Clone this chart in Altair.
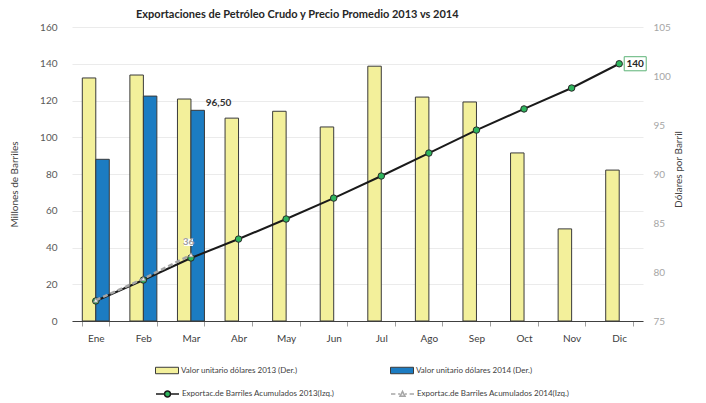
import altair as alt
import pandas as pd

# ---------------- data ----------------
meses = ["Ene", "Feb", "Mar", "Abr", "May", "Jun", "Jul", "Ago", "Sep", "Oct", "Nov", "Dic"]
precio_2013 = [99.8, 100.1, 97.65, 95.7, 96.4, 94.8, 101.0, 97.85, 97.35, 92.15, 84.4, 90.4]
meses_2014 = ["Ene", "Feb", "Mar"]
precio_2014 = [91.5, 97.95, 96.5]
acum_2013 = [10.9, 22.3, 34.3, 44.6, 55.5, 66.9, 78.9, 91.4, 103.9, 115.4, 126.8, 140.0]
acum_2014 = [11.3, 23.0, 36.0]

lab_b13 = "Valor unitario dólares 2013 (Der.)"
lab_b14 = "Valor unitario dólares 2014 (Der.)"
lab_l13 = "Exportac.de Barriles Acumulados 2013(Izq.)"
lab_l14 = "Exportac.de Barriles Acumulados 2014(Izq.)"

titulo = "Exportaciones de Petróleo Crudo y Precio Promedio 2013 vs 2014"
eje_izq = "Millones de Barriles"
eje_der = "Dólares por Barril"
ticks_izq = [0, 20, 40, 60, 80, 100, 120, 140, 160]
ticks_der = [75, 80, 85, 90, 95, 100, 105]

etq_precio_mar14 = ["96,50"]
etq_acum_mar14 = ["36"]
etq_acum_dic13 = ["140"]

FONT = "Lato"
YELLOW = "#F3F09B"
BLUE = "#1C7CC2"
GREEN = "#2DB55D"

df_b13 = pd.DataFrame({"mes": meses, "anio": "2013", "precio": precio_2013, "serie": lab_b13})
df_b14 = pd.DataFrame({"mes": meses_2014, "anio": "2014", "precio": precio_2014, "serie": lab_b14})
df_l13 = pd.DataFrame({"mes": meses, "acum": acum_2013, "serie": lab_l13})
df_l14 = pd.DataFrame({"mes": meses_2014, "acum": acum_2014, "serie": lab_l14})

df_t96 = pd.DataFrame({"mes": ["Mar"], "anio": ["2014"], "precio": [precio_2014[2]], "t": etq_precio_mar14})
df_t36 = pd.DataFrame({"mes": ["Mar"], "acum": [acum_2014[2]], "t": etq_acum_mar14})
df_t140 = pd.DataFrame({"mes": ["Dic"], "acum": [acum_2013[11]], "t": etq_acum_dic13})

xscale = alt.Scale(type="band", domain=meses, paddingInner=0.433, paddingOuter=0.2165)
xaxis = alt.Axis(
    title=None, labelAngle=0, labelFont=FONT, labelFontSize=10, labelColor="#404040",
    domainColor="#404040", tickColor="#A0A0A0", tickSize=5, tickBand="extent",
    labelPadding=7, grid=False,
)
# same axis definition in every layer so Vega-Lite merges them into one
X = alt.X("mes:N", scale=xscale, sort=meses, axis=xaxis)
xoff = alt.XOffset("anio:N", scale=alt.Scale(domain=["2013", "2014"], paddingInner=0, paddingOuter=0))

yscale_der = alt.Scale(domain=[75, 105], nice=False, zero=False)
yscale_izq = alt.Scale(domain=[0, 160], nice=False, zero=True)

yaxis_der = alt.Axis(
    orient="right", values=ticks_der, grid=False, domain=False, ticks=False,
    labelPadding=10, labelFont=FONT, labelFontSize=10, labelColor="#A6A6A6",
    title=eje_der, titleFont=FONT, titleFontSize=10, titleFontWeight="normal",
    titleColor="#404040", titleAngle=270, titleX=35, titleY=142, titleBaseline="middle",
)
yaxis_izq = alt.Axis(
    orient="left", values=ticks_izq, grid=True, gridColor="#EBEBEB", domain=False, ticks=False,
    labelPadding=15, labelFont=FONT, labelFontSize=10, labelColor="#595959",
    title=eje_izq, titleFont=FONT, titleFontSize=10, titleFontWeight="normal",
    titleColor="#404040", titleAngle=270, titleX=-58, titleY=157, titleBaseline="middle",
)

SYM = 529  # 23 px wide symbols
RECT = "M-1,-0.28H1V0.28H-1Z"
LINE_CIRC = "M-1,0H-0.26M0.26,0H1M-0.26,0A0.26,0.26 0 1 1 0.26,0A0.26,0.26 0 1 1 -0.26,0Z"
LINE_TRI = "M-1,0H-0.62M-0.38,0H-0.22M0.22,0H0.38M0.62,0H1M-0.22,0.2L0,-0.22L0.22,0.2Z"

ROW1 = 370 - 27 - 11.5
ROW2 = 393 - 27 - 11.5


def leg(x, y, sym, **kw):
    return alt.Legend(
        title=None, orient="none", legendX=x, legendY=y, symbolType=sym, symbolSize=SYM,
        labelFont=FONT, labelFontSize=8, labelColor="#404040", labelOffset=2, padding=0,
        **kw,
    )


Yd = alt.Y("precio:Q", scale=yscale_der, axis=yaxis_der)
Ydn = alt.Y("precio:Q", scale=yscale_der, axis=None)
Yl = alt.Y("acum:Q", scale=yscale_izq, axis=yaxis_izq)
Yln = alt.Y("acum:Q", scale=yscale_izq, axis=None)

bar13 = alt.Chart(df_b13).mark_bar(stroke="#3A3A3A", strokeWidth=1).encode(
    x=X, xOffset=xoff, y=Yd, y2=alt.datum(75),
    fill=alt.Fill("serie:N", scale=alt.Scale(domain=[lab_b13], range=[YELLOW]),
                  legend=leg(155 - 72, ROW1, RECT, symbolStrokeColor="#3A3A3A", symbolStrokeWidth=1)),
)
bar14 = alt.Chart(df_b14).mark_bar(stroke="#3A3A3A", strokeWidth=1).encode(
    x=X, xOffset=xoff, y=Ydn, y2=alt.datum(75),
    fill=alt.Fill("serie:N", scale=alt.Scale(domain=[lab_b14], range=[BLUE]),
                  legend=leg(390 - 72, ROW1, RECT, symbolStrokeColor="#3A3A3A", symbolStrokeWidth=1)),
)
t96 = alt.Chart(df_t96).mark_text(
    align="left", baseline="alphabetic", dx=8, dy=-4, font=FONT, fontSize=10,
    fontWeight="bold", color="#333333",
).encode(x=X, xOffset=xoff, y=Ydn, text="t:N")

line13 = alt.Chart(df_l13).mark_line(strokeWidth=2).encode(
    x=X, y=Yl,
    stroke=alt.Stroke("serie:N", scale=alt.Scale(domain=[lab_l13], range=["#1A1A1A"]),
                      legend=leg(155 - 72, ROW2, LINE_CIRC, symbolFillColor=GREEN, symbolStrokeWidth=1.5)),
)
pts13 = alt.Chart(df_l13).mark_point(
    shape="circle", filled=True, fill=GREEN, stroke="#2A2A2A", strokeWidth=1, size=42, opacity=1
).encode(x=X, y=Yln)
line14 = alt.Chart(df_l14).mark_line(strokeWidth=2.5, strokeDash=[5, 3]).encode(
    x=X, y=Yln,
    stroke=alt.Stroke("serie:N", scale=alt.Scale(domain=[lab_l14], range=["#A6A6A6"]),
                      legend=leg(390 - 72, ROW2, LINE_TRI, symbolFillColor="#EEEEEE", symbolStrokeWidth=1.5)),
)
tri14 = alt.Chart(df_l14).mark_point(
    shape="triangle-up", filled=True, fill="#EEEEEE", stroke="#8A8A8A", strokeWidth=0.8, size=22, opacity=1
).encode(x=X, y=Yln)

box36 = alt.Chart(df_t36).mark_point(
    shape="M-1,-0.8H1V0.8H-1Z", filled=True, fill="white", color="white", strokeWidth=0, size=81, opacity=1,
    xOffset=-2.5, yOffset=-12.5,
).encode(x=X, y=Yln)
t36 = alt.Chart(df_t36).mark_text(
    align="center", baseline="middle", dx=-2.5, dy=-12.5, font=FONT, fontSize=10,
    fontWeight="bold", color="#A0A0A0",
).encode(x=X, y=Yln, text="t:N")

box140 = alt.Chart(df_t140).mark_point(
    shape="M-1,-0.64H1V0.64H-1Z", filled=True, fill="white", stroke="#5CB377", strokeWidth=1,
    size=484, opacity=1, xOffset=16,
).encode(x=X, y=Yln)
t140 = alt.Chart(df_t140).mark_text(
    align="center", baseline="middle", dx=16, font=FONT, fontSize=10,
    fontWeight="bold", color="#262626",
).encode(x=X, y=Yln, text="t:N")

chart = alt.layer(
    bar13, bar14, t96, line13, pts13, line14, tri14, box36, t36, box140, t140
).resolve_scale(
    y="independent", fill="independent", stroke="independent"
).resolve_legend(fill="independent", stroke="independent").properties(
    width=571, height=294,
    padding={"left": 64, "top": 19, "right": 55, "bottom": 95},
    autosize="none",
    title=alt.Title(titulo, anchor="start", frame="group", dx=64, offset=2, font=FONT, fontSize=11,
                    fontWeight="bold", color="#262626"),
).configure_view(stroke=None)

chart.save("out.html", embed_options={"renderer": "svg", "actions": False})
